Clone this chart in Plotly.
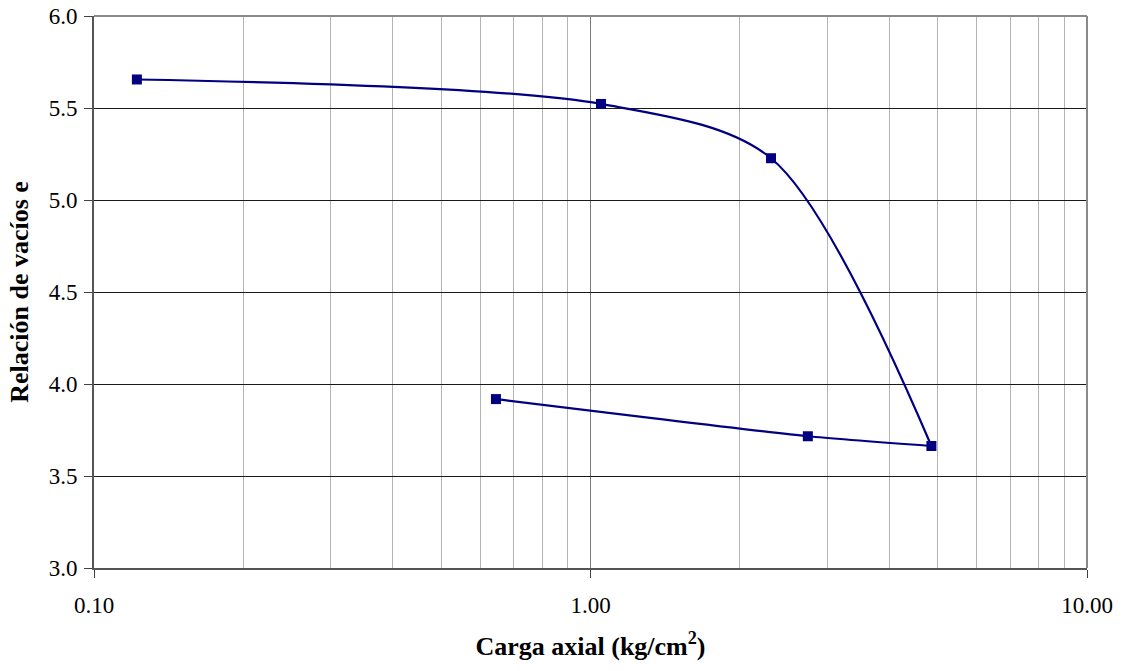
import plotly.graph_objects as go

# Consolidation test: void ratio vs axial load (log scale)
carga_axial = [0.122, 1.05, 2.31, 4.86, 2.74, 0.645]   # kg/cm2
relacion_vacios = [5.655, 5.522, 5.227, 3.663, 3.716, 3.918]
n_carga = 4  # first four readings are loading, the rest unloading

x_tickvals = [0.1, 1.0, 10.0]
x_ticktext = ["0.10", "1.00", "10.00"]
y_tickvals = [3.0, 3.5, 4.0, 4.5, 5.0, 5.5, 6.0]
y_ticktext = ["3.0", "3.5", "4.0", "4.5", "5.0", "5.5", "6.0"]

FONT = "Liberation Serif"
NAVY = "#000080"
TICK_SIZE = 23
TITLE_SIZE = 26

fig = go.Figure()
# Loading branch (smoothed)
fig.add_trace(go.Scatter(
    x=carga_axial[:n_carga], y=relacion_vacios[:n_carga],
    mode="lines",
    line=dict(color=NAVY, width=2.2, shape="spline", smoothing=0.85),
    showlegend=False, hoverinfo="skip",
))
# Unloading branch
fig.add_trace(go.Scatter(
    x=carga_axial[n_carga - 1:], y=relacion_vacios[n_carga - 1:],
    mode="lines",
    line=dict(color=NAVY, width=2.2, shape="spline", smoothing=0.5),
    showlegend=False, hoverinfo="skip",
))
# Readings
fig.add_trace(go.Scatter(
    x=carga_axial, y=relacion_vacios,
    mode="markers",
    marker=dict(symbol="square", size=10, color=NAVY),
    showlegend=False,
))

fig.update_layout(
    width=1123, height=671,
    margin=dict(l=94, r=36, t=16, b=103),
    paper_bgcolor="white", plot_bgcolor="white",
    font=dict(family=FONT, size=TICK_SIZE, color="black"),
    xaxis=dict(
        type="log", range=[-1, 1], automargin=False,
        tickvals=x_tickvals, ticktext=x_ticktext,
        tickfont=dict(family=FONT, size=TICK_SIZE, color="black"),
        ticks="outside", ticklen=8, tickcolor="#404040", tickwidth=1,
        ticklabelstandoff=7,
        showline=True, linecolor="#555555", linewidth=2, mirror=False,
        showgrid=True, gridcolor="#7a7a7a", gridwidth=1,
        minor=dict(dtick="D1", showgrid=True, gridcolor="#b4b4b4", gridwidth=1, ticks=""),
        zeroline=False,
        title=dict(text="<b>Carga axial (kg/cm<sup>2</sup>)</b>",
                   font=dict(family=FONT, size=TITLE_SIZE), standoff=20),
    ),
    yaxis=dict(
        range=[3.0, 6.0], automargin=False,
        tickvals=y_tickvals, ticktext=y_ticktext,
        tickfont=dict(family=FONT, size=TICK_SIZE, color="black"),
        ticks="outside", ticklen=8, tickcolor="#404040", tickwidth=1,
        ticklabelstandoff=2,
        showline=True, linecolor="#555555", linewidth=2,
        showgrid=True, gridcolor="#1a1a1a", gridwidth=1,
        zeroline=False,
        title=dict(text="<b>Relación de vacíos e</b>",
                   font=dict(family=FONT, size=TITLE_SIZE), standoff=13),
    ),
)

# Gray frame along the top and right edges of the plotting area
fig.add_shape(type="line", xref="paper", yref="paper", x0=0, x1=1, y0=1, y1=1,
              line=dict(color="#8a8a8a", width=2))
fig.add_shape(type="line", xref="paper", yref="paper", x0=1, x1=1, y0=0, y1=1,
              line=dict(color="#8a8a8a", width=2))

fig.write_html("out.html")
